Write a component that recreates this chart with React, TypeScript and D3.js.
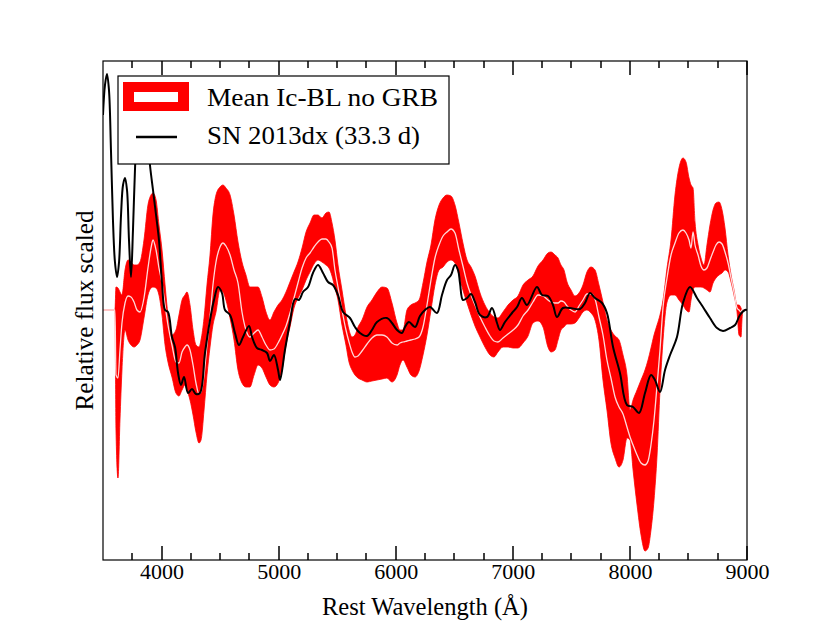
import React, { useEffect, useRef } from 'react'
import * as d3 from 'd3'

// mean Ic-BL (no GRB) template: wavelength, upper / mean / lower envelope (relative flux)
const bandWave = [
  3500, 3602, 3611, 3628, 3645, 3662, 3688, 3714, 3739, 3765,
  3790, 3816, 3850, 3884, 3910, 3927, 3953, 3978, 4004, 4030,
  4055, 4089, 4123, 4149, 4175, 4200, 4217, 4243, 4269, 4294,
  4320, 4337, 4363, 4388, 4414, 4439, 4465, 4499, 4525, 4550,
  4585, 4619, 4653, 4687, 4721, 4755, 4790, 4824, 4858, 4892,
  4926, 4960, 4995, 5029, 5063, 5097, 5131, 5165, 5200, 5234,
  5268, 5302, 5336, 5370, 5404, 5430, 5456, 5481, 5507, 5541,
  5575, 5601, 5627, 5652, 5678, 5712, 5755, 5797, 5840, 5883,
  5925, 5968, 6011, 6036, 6062, 6096, 6130, 6165, 6199, 6233,
  6267, 6301, 6335, 6370, 6404, 6438, 6472, 6506, 6540, 6574,
  6609, 6643, 6677, 6720, 6762, 6805, 6839, 6873, 6916, 6959,
  7002, 7044, 7087, 7130, 7172, 7215, 7258, 7300, 7326, 7360,
  7386, 7411, 7437, 7463, 7497, 7531, 7565, 7599, 7633, 7668,
  7702, 7736, 7770, 7804, 7838, 7873, 7907, 7941, 7975, 8001,
  8027, 8061, 8095, 8129, 8155, 8180, 8206, 8232, 8257, 8283,
  8317, 8351, 8385, 8419, 8453, 8479, 8505, 8522, 8539, 8556,
  8582, 8607, 8633, 8658, 8684, 8710, 8735, 8761, 8787, 8812,
  8838, 8864, 8889, 8915, 8932, 8949, 8957, 8966, 9000,
]
const bandHigh = [
  0, 0, 0.23, 0.22, 0.18, 0.15, 0.4, 0.5, 0.48, 0.45,
  0.45, 0.48, 0.7, 1.05, 1.15, 1.17, 1.1, 0.85, 0.6, 0.25,
  -0.05, -0.25, -0.2, -0.05, 0.1, 0.15, 0.18, 0.05, -0.2, -0.35,
  -0.37, -0.3, -0.08, 0.25, 0.55, 0.95, 1.15, 1.23, 1.25, 1.22,
  1.15, 0.95, 0.68, 0.48, 0.35, 0.23, 0.23, 0.23, 0.13, -0.02,
  -0.1, -0.02, 0.05, 0.1, 0.18, 0.28, 0.38, 0.48, 0.62, 0.78,
  0.87, 0.95, 0.95, 0.92, 0.97, 0.98, 0.87, 0.7, 0.45, 0.2,
  -0.05, -0.2, -0.27, -0.25, -0.17, -0.1, 0.03, 0.1, 0.18, 0.23,
  0.22, 0.07, -0.13, -0.2, -0.2, 0.0, 0.05, 0.07, 0.1, 0.27,
  0.48, 0.65, 0.9, 1.05, 1.12, 1.15, 1.14, 1.05, 0.87, 0.67,
  0.5, 0.43, 0.34, 0.17, 0.05, -0.03, -0.07, -0.08, -0.02, 0.05,
  0.1, 0.14, 0.25, 0.3, 0.34, 0.44, 0.5, 0.57, 0.58, 0.55,
  0.52, 0.45, 0.4, 0.28, 0.2, 0.14, 0.17, 0.25, 0.38, 0.43,
  0.4, 0.25, 0.08, -0.1, -0.2, -0.26, -0.3, -0.45, -0.65, -1.0,
  -0.9, -0.8, -0.7, -0.6, -0.5, -0.38, -0.25, -0.15, -0.05, 0.1,
  0.42, 0.7, 1.15, 1.42, 1.52, 1.48, 1.32, 1.25, 1.22, 0.88,
  0.65, 0.52, 0.45, 0.65, 0.85, 1.0, 1.07, 1.08, 1.0, 0.82,
  0.55, 0.35, 0.2, 0.05, 0.05, 0.02, 0, 0, 0,
]
const bandMean = [
  0, 0, -0.65, -0.68, -0.4, -0.13, 0.07, 0.14, 0.13, 0.08,
  0.0, -0.02, 0.12, 0.42, 0.62, 0.7, 0.6, 0.42, 0.27, 0.05,
  -0.15, -0.35, -0.52, -0.53, -0.42, -0.37, -0.35, -0.4, -0.55, -0.73,
  -0.84, -0.82, -0.65, -0.35, -0.07, 0.25, 0.48, 0.63, 0.67, 0.64,
  0.55, 0.4, 0.27, -0.02, -0.2, -0.27, -0.23, -0.2, -0.27, -0.35,
  -0.4, -0.39, -0.33, -0.25, -0.16, -0.03, 0.12, 0.27, 0.42, 0.52,
  0.57, 0.63, 0.68, 0.71, 0.71, 0.68, 0.62, 0.4, 0.23, 0.0,
  -0.2, -0.32, -0.42, -0.47, -0.46, -0.41, -0.34, -0.28, -0.25, -0.25,
  -0.27, -0.33, -0.35, -0.33, -0.32, -0.31, -0.3, -0.29, -0.27, -0.17,
  0.05, 0.3, 0.52, 0.65, 0.74, 0.78, 0.81, 0.77, 0.6, 0.44,
  0.27, 0.15, 0.05, -0.07, -0.17, -0.26, -0.31, -0.32, -0.28, -0.24,
  -0.2, -0.15, -0.06, 0.0, 0.08, 0.15, 0.14, 0.1, 0.08, 0.07,
  0.07, 0.09, 0.08, 0.04, 0.0, -0.02, 0.04, 0.1, 0.16, 0.16,
  0.11, -0.07, -0.25, -0.5, -0.68, -0.87, -0.97, -1.04, -1.17, -1.27,
  -1.35, -1.45, -1.53, -1.55, -1.51, -1.35, -1.1, -0.75, -0.4, 0.03,
  0.32, 0.55, 0.67, 0.77, 0.8, 0.77, 0.7, 0.62, 0.78, 0.65,
  0.55, 0.44, 0.4, 0.42, 0.5, 0.58, 0.65, 0.68, 0.66, 0.58,
  0.47, 0.32, 0.18, 0.02, 0.0, -0.02, 0, 0, 0,
]
const bandLow = [
  0, 0, -1.2, -1.68, -1.1, -0.6, -0.2, -0.3, -0.35, -0.37,
  -0.35, -0.3, -0.08, 0.15, 0.22, 0.23, 0.22, 0.15, -0.05, -0.35,
  -0.52, -0.67, -0.83, -0.86, -0.8, -0.75, -0.8, -0.9, -1.05, -1.22,
  -1.33, -1.3, -1.0, -0.65, -0.37, -0.15, -0.02, 0.2, 0.18, 0.1,
  -0.08, -0.3, -0.6, -0.73, -0.77, -0.77, -0.65, -0.55, -0.58, -0.67,
  -0.75, -0.77, -0.73, -0.6, -0.35, -0.17, 0.02, 0.12, 0.2, 0.3,
  0.38, 0.46, 0.5, 0.48, 0.45, 0.42, 0.34, 0.22, 0.1, -0.15,
  -0.35, -0.52, -0.6, -0.65, -0.68, -0.7, -0.72, -0.71, -0.7, -0.69,
  -0.68, -0.72, -0.65, -0.55, -0.5, -0.57, -0.65, -0.67, -0.61, -0.45,
  -0.25, 0.0, 0.25, 0.4, 0.43, 0.48, 0.5, 0.47, 0.35, 0.2,
  0.07, -0.05, -0.16, -0.27, -0.37, -0.45, -0.47, -0.42, -0.37, -0.37,
  -0.38, -0.38, -0.33, -0.26, -0.13, -0.11, -0.17, -0.37, -0.42, -0.4,
  -0.3, -0.2, -0.17, -0.14, -0.14, -0.13, -0.08, -0.02, 0.0, -0.03,
  -0.1, -0.3, -0.7, -1.0, -1.33, -1.48, -1.57, -1.5, -1.28, -1.3,
  -1.6, -1.95, -2.25, -2.41, -2.38, -2.2, -1.9, -1.45, -0.8, -0.3,
  0.08, 0.15, 0.15, 0.1, 0.05, 0.0, -0.02, 0.1, 0.2, 0.23,
  0.23, 0.23, 0.22, 0.2, 0.18, 0.27, 0.32, 0.35, 0.37, 0.4,
  0.38, 0.28, 0.15, -0.02, -0.25, -0.27, -0.1, 0, 0,
]

// SN 2013dx at 33.3 d
const dxWave = [
  3500, 3517, 3534, 3551, 3568, 3585, 3602, 3620, 3637, 3654,
  3671, 3688, 3705, 3722, 3739, 3756, 3773, 3790, 3816, 3859,
  3901, 3927, 3953, 3978, 4004, 4030, 4055, 4089, 4115, 4141,
  4166, 4192, 4226, 4260, 4294, 4328, 4371, 4414, 4448, 4482,
  4516, 4542, 4585, 4627, 4661, 4696, 4747, 4773, 4815, 4858,
  4901, 4926, 4960, 4995, 5012, 5054, 5097, 5140, 5174, 5208,
  5251, 5293, 5336, 5379, 5422, 5464, 5507, 5550, 5609, 5652,
  5695, 5755, 5797, 5840, 5925, 5968, 6011, 6053, 6079, 6113,
  6165, 6207, 6250, 6293, 6352, 6395, 6438, 6472, 6506, 6532,
  6549, 6574, 6609, 6643, 6677, 6720, 6779, 6822, 6865, 6890,
  6933, 6993, 7036, 7078, 7121, 7206, 7249, 7300, 7343, 7377,
  7428, 7488, 7574, 7616, 7659, 7702, 7762, 7804, 7856, 7915,
  7975, 8027, 8078, 8129, 8180, 8214, 8257, 8300, 8343, 8402,
  8453, 8513, 8573, 8624, 8684, 8744, 8795, 8855, 8898, 8940,
  8983, 9000,
]
const dxFlux = [
  1.95, 2.25, 2.36, 2.2, 1.6, 0.9, 0.48, 0.33, 0.48, 0.95,
  1.25, 1.32, 1.2, 0.7, 0.33, 0.8, 1.4, 1.8, 2.05, 2.0,
  1.45, 1.2, 0.95, 0.7, 0.27, 0.0, -0.02, -0.27, -0.37, -0.63,
  -0.75, -0.67, -0.83, -0.79, -0.84, -0.83, -0.43, -0.1, 0.1, 0.23,
  0.17, 0.0, -0.05, -0.23, -0.35, -0.27, -0.16, -0.27, -0.38, -0.4,
  -0.43, -0.51, -0.45, -0.6, -0.7, -0.4, -0.12, 0.11, 0.1, 0.18,
  0.23, 0.37, 0.45, 0.37, 0.28, 0.25, 0.15, -0.02, -0.08, -0.17,
  -0.23, -0.26, -0.2, -0.12, -0.08, -0.13, -0.2, -0.23, -0.17, -0.12,
  -0.17, -0.06, 0.0, 0.03, -0.03, 0.15, 0.3, 0.35, 0.45, 0.4,
  0.27, 0.1, 0.12, 0.16, 0.08, -0.05, -0.07, 0.02, -0.13, -0.2,
  -0.12, -0.03, 0.03, 0.12, 0.05, 0.23, 0.15, 0.14, 0.05, -0.07,
  0.02, 0.02, 0.01, 0.07, 0.17, 0.12, 0.07, -0.03, -0.37, -0.63,
  -0.95, -0.97, -1.03, -0.83, -0.65, -0.7, -0.82, -0.6, -0.45, -0.27,
  0.07, 0.23, 0.12, 0.03, -0.08, -0.18, -0.21, -0.18, -0.15, -0.05,
  0.0, 0.0,
]

const majorTicks = [4000, 5000, 6000, 7000, 8000, 9000]
const minorTicks = [
  3750, 4250, 4500, 4750, 5250, 5500, 5750, 6250, 6500, 6750,
  7250, 7500, 7750, 8250, 8500, 8750,
]

const W = 830
const H = 623
const left = 103
const right = 747
const top = 61
const bottom = 560
const serif = '"Liberation Serif", "DejaVu Serif", serif'

const App: React.FC = () => {
  const axisRef = useRef<SVGGElement>(null)

  const x = d3.scaleLinear().domain([3500, 9000]).range([left, right])
  const y = d3.scaleLinear().domain([-2.5, 2.49]).range([bottom, top])

  const band = bandWave.map((w, i) => ({ w, hi: bandHigh[i], mid: bandMean[i], lo: bandLow[i] }))
  const dx = dxWave.map((w, i) => ({ w, f: dxFlux[i] }))

  const area = d3.area<{ w: number; hi: number; lo: number }>()
    .x(d => x(d.w))
    .y0(d => y(d.lo))
    .y1(d => y(d.hi))
    .curve(d3.curveMonotoneX)
  const meanLine = d3.line<{ w: number; mid: number }>()
    .x(d => x(d.w))
    .y(d => y(d.mid))
    .curve(d3.curveMonotoneX)
  const dxLine = d3.line<{ w: number; f: number }>()
    .x(d => x(d.w))
    .y(d => y(d.f))
    .curve(d3.curveCatmullRom.alpha(0.5))

  // tick labels through d3's bottom axis
  useEffect(() => {
    if (!axisRef.current) return
    const g = d3.select(axisRef.current)
    g.selectAll('*').remove()
    const a = g.append('g').attr('transform', `translate(0,${bottom})`)
      .call(d3.axisBottom(x).tickValues(majorTicks).tickSize(0).tickFormat(d3.format('d')))
    a.select('.domain').remove()
    a.attr('font-family', serif).attr('font-size', 22)
    a.selectAll('.tick text').attr('y', 19).attr('dy', null).attr('fill', '#000')
  }, [])

  // inward tick marks on top and bottom edges, as filled rects
  const marks = [
    ...majorTicks.map(t => ({ t, len: 14 })),
    ...minorTicks.map(t => ({ t, len: 7 })),
  ]

  return (
    <div style={{ position: 'absolute', left: 0, top: 0, width: W, height: H, background: '#fff' }}>
      <svg width={W} height={H} style={{ display: 'block' }}>
        <defs>
          <clipPath id="plot-clip">
            <rect x={left} y={top} width={right - left} height={bottom - top} />
          </clipPath>
        </defs>
        <rect x={0} y={0} width={W} height={H} fill="#fff" />

        <g clipPath="url(#plot-clip)">
          <path d={area(band) ?? ''} fill="#ff0000" stroke="#ff0000" strokeWidth={0.8} />
          <path d={meanLine(band) ?? ''} fill="none" stroke="#ffffff" strokeOpacity={0.85} strokeWidth={1.3} />
          <path d={dxLine(dx) ?? ''} fill="none" stroke="#000" strokeWidth={2} strokeLinejoin="round" />
        </g>

        {marks.map(({ t, len }) => (
          <g key={`m${t}`} fill="#000">
            <rect x={Math.round(x(t)) - 0.75} y={bottom - len} width={1.5} height={len} />
            <rect x={Math.round(x(t)) - 0.75} y={top} width={1.5} height={len} />
          </g>
        ))}
        <g ref={axisRef} />
        <rect x={left} y={top} width={right - left} height={bottom - top} fill="none" stroke="#000" strokeWidth={1.2} />

        {/* legend */}
        <g>
          <rect x={118} y={76} width={331} height={88} fill="#fff" stroke="#000" strokeWidth={1.2} />
          <rect x={123} y={82} width={66} height={29} fill="#ff0000" />
          <rect x={134} y={92} width={44} height={10} fill="#fff" />
          <line x1={136} x2={177} y1={137} y2={137} stroke="#000" strokeWidth={2.5} />
          <text x={207} y={106} fontFamily={serif} fontSize={26} textLength={231} lengthAdjust="spacingAndGlyphs">
            Mean Ic-BL no GRB
          </text>
          <text x={207} y={144} fontFamily={serif} fontSize={26} textLength={213} lengthAdjust="spacingAndGlyphs">
            SN 2013dx (33.3 d)
          </text>
        </g>

        <text x={(left + right) / 2} y={615} textAnchor="middle" fontFamily={serif} fontSize={25}
          textLength={206} lengthAdjust="spacingAndGlyphs">
          Rest Wavelength (Å)
        </text>
        <text transform={`translate(93,${(top + bottom) / 2}) rotate(-90)`} textAnchor="middle"
          fontFamily={serif} fontSize={25} textLength={200} lengthAdjust="spacingAndGlyphs">
          Relative flux scaled
        </text>
      </svg>
    </div>
  )
}

export default App
